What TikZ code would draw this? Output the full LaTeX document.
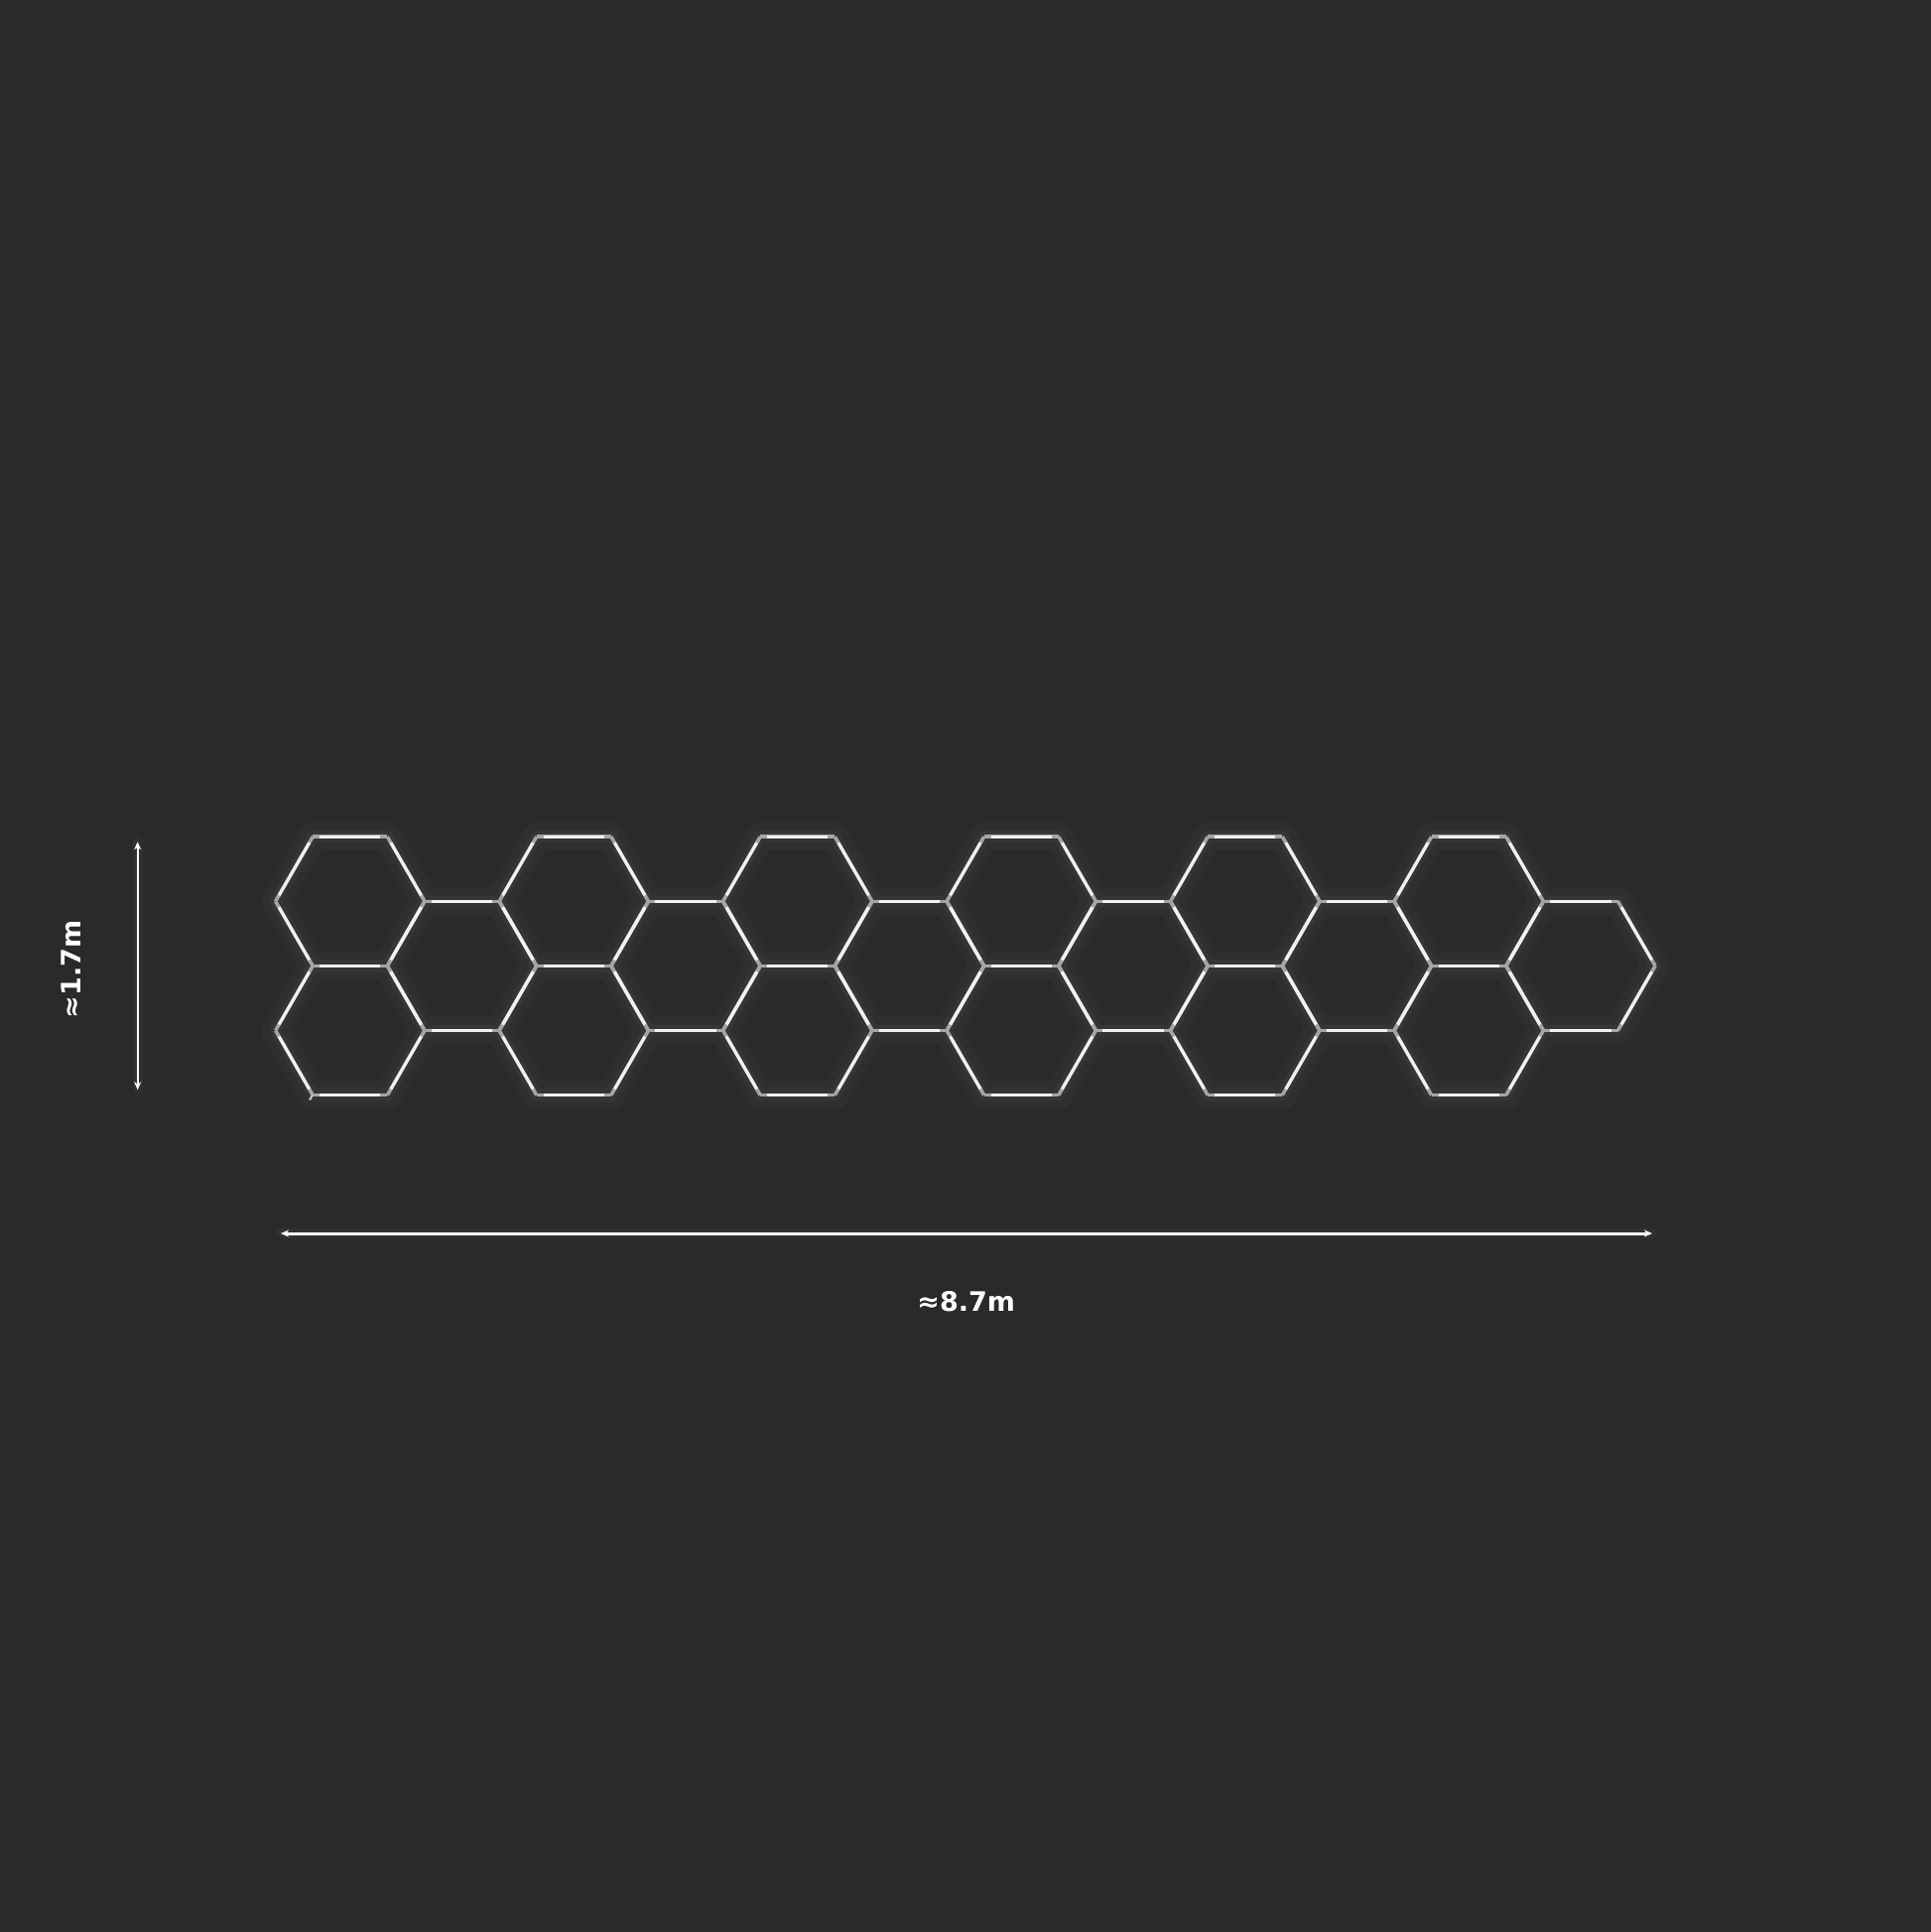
\documentclass[tikz,border=0pt]{standalone}
\usepackage{fontspec}
\setmainfont{DejaVu Sans}
\usetikzlibrary{arrows.meta}

\definecolor{fondo}{HTML}{2A2A2A}
\definecolor{tubo}{HTML}{EEF3FA}
\definecolor{junta}{HTML}{A9A49E}

\tikzset{
	halo/.style={line width=28pt, white, line cap=round},
	brillo/.style={line width=12pt, white, line cap=round},
	gris/.style={line width=3.6pt, junta},
	luz/.style={line width=3pt, tubo, shorten <=7pt, shorten >=7pt},
	cota/.style={white, {Stealth[length=8pt,width=7pt]}-{Stealth[length=8pt,width=7pt]}},
	etiqueta/.style={text=white, font=\bfseries\fontsize{27}{32}\selectfont}
}

\newcommand{\radio}{75.16}
% un hexagono: estilo, centro x, centro y
\newcommand{\hexa}[3]{%
	\foreach \a in {0,60,...,300}
		\draw[#1] ({#2+\radio*cos(\a)},{#3+\radio*sin(\a)}) -- ({#2+\radio*cos(\a+60)},{#3+\radio*sin(\a+60)});
}
% todo el panal con un estilo
\newcommand{\panal}[1]{%
	\foreach \i in {0,...,11}{
		\pgfmathsetmacro\cx{352.8+112.74*\i}
		\ifodd\i \hexa{#1}{\cx}{973.4}\else \hexa{#1}{\cx}{908.3}\hexa{#1}{\cx}{1038.5}\fi
	}%
}

\begin{document}
	\begin{tikzpicture}[x=1pt,y=-1pt]

		\fill[fondo] (0,0) rectangle (1946,1947);
		\useasboundingbox (0,0) rectangle (1946,1947);

		\begin{scope}[transparency group, opacity=0.025]
			\panal{halo}
		\end{scope}
		\begin{scope}[transparency group, opacity=0.03]
			\panal{brillo}
		\end{scope}
		\panal{gris}
		\panal{luz}
		\draw[line width=2pt, junta!60!tubo] (315,1103.7) -- (312,1108.5); %Punta

		\coordinate (vArriba) at (138.7,848.3);
		\coordinate (vAbajo) at (138.7,1098.3);
		\coordinate (hIzq) at (283,1243);
		\coordinate (hDer) at (1665,1243);

		\draw[line width=10pt, white, opacity=0.03, line cap=round] (vArriba) -- (vAbajo);
		\draw[line width=10pt, white, opacity=0.03, line cap=round] (hIzq) -- (hDer);
		\draw[cota, line width=2.4pt] (vArriba) -- (vAbajo);
		\draw[cota, line width=3pt] (hIzq) -- (hDer);

		\node[etiqueta, rotate=90] (alto) at (71.7,976.7) {≈1.7m};
		\node[etiqueta] (ancho) at (973.7,1311.7) {≈8.7m};

	\end{tikzpicture}
\end{document}
